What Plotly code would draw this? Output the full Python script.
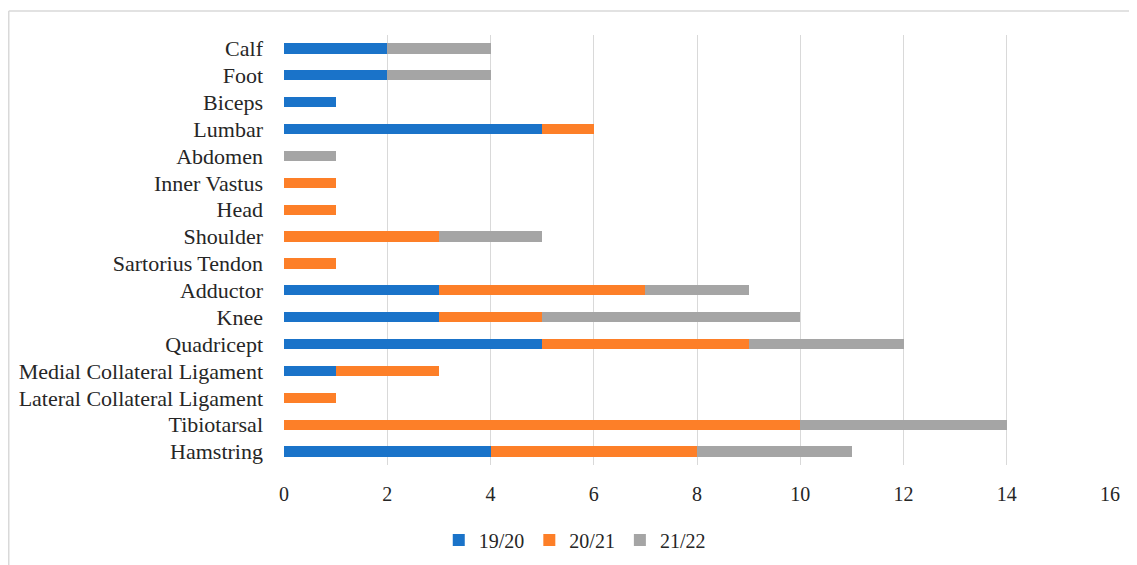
import plotly.graph_objects as go

categories = ["Hamstring", "Tibiotarsal", "Lateral Collateral Ligament", "Medial Collateral Ligament",
              "Quadricept", "Knee", "Adductor", "Sartorius Tendon", "Shoulder", "Head",
              "Inner Vastus", "Abdomen", "Lumbar", "Biceps", "Foot", "Calf"]
s1920 = [4, 0, 0, 1, 5, 3, 3, 0, 0, 0, 0, 0, 5, 1, 2, 2]
s2021 = [4, 10, 1, 2, 4, 2, 4, 1, 3, 1, 1, 0, 1, 0, 0, 0]
s2122 = [3, 4, 0, 0, 3, 5, 2, 0, 2, 0, 0, 1, 0, 0, 2, 2]
series_names = ["19/20", "20/21", "21/22"]
colors = ["#1a73c9", "#fd7f28", "#a5a5a5"]
tick_vals = [0, 2, 4, 6, 8, 10, 12, 14, 16]

W, H = 1129, 557
ml, mr, mt, mb = 276, 27, 27, 100

fig = go.Figure()
for name, vals, c in zip(series_names, [s1920, s2021, s2122], colors):
    fig.add_trace(go.Bar(y=categories, x=vals, name=name, orientation="h",
                         marker=dict(color=c, line=dict(width=0))))

pw = W - ml - mr
ph = H - mt - mb
# outer frame: left and top edges visible (right/bottom run off the picture)
xl = (0.75 - ml) / pw
xr = (W + 20 - ml) / pw
yt = (H - 3 - mb) / ph
yb = (-20 - mb) / ph
frame = dict(color="#d9d9d9", width=1.5)
fig.add_shape(type="line", xref="paper", yref="paper", x0=xl, x1=xl, y0=yb, y1=yt, line=frame, layer="below")
fig.add_shape(type="line", xref="paper", yref="paper", x0=xl, x1=xr, y0=yt, y1=yt, line=frame, layer="below")

font = "Liberation Serif, Times New Roman, serif"
fig.update_layout(
    width=W, height=H, barmode="stack", bargap=0.62,
    margin=dict(l=ml, r=mr, t=mt, b=mb),
    plot_bgcolor="white", paper_bgcolor="white",
    font=dict(family=font, size=20, color="#262626"),
    xaxis=dict(range=[0, 16], tickvals=tick_vals, showgrid=True, gridcolor="#d9d9d9",
               gridwidth=1.3, zeroline=False, showline=False, ticks="",
               tickfont=dict(size=20), ticklabelstandoff=15),
    yaxis=dict(categoryorder="array", categoryarray=categories, showgrid=False,
               ticks="", tickfont=dict(size=22), ticklabelstandoff=20),
    legend=dict(orientation="h", xref="container", x=0.502, xanchor="center",
                yref="container", y=(H - 532) / H, yanchor="middle", font=dict(size=20),
                traceorder="normal", itemwidth=30),
    showlegend=True,
)
fig.write_html("out.html")
